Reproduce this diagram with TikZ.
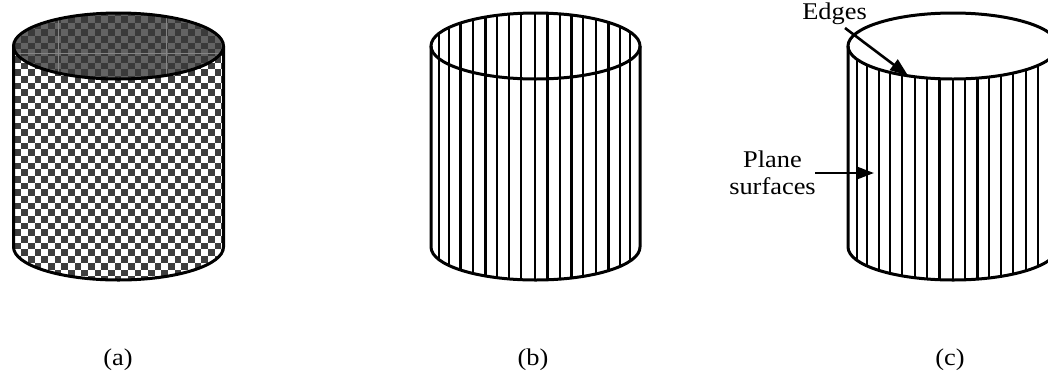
\documentclass[tikz,border=0pt]{standalone}
\usepackage{fontspec}
\setmainfont{Liberation Serif}
\usetikzlibrary{arrows.meta}
\definecolor{chkdark}{HTML}{3E3E3E}
\definecolor{topdark}{HTML}{3A3A3A}
\definecolor{toplight}{HTML}{636363}
\definecolor{seam}{HTML}{858585}
\tikzset{
  rim/.style={line width=3pt,black},
  label/.style={font=\fontsize{24}{28}\selectfont,xscale=1.1,transform shape,inner sep=0pt,align=center},
  pointer/.style={line width=2.6pt,black,-{Triangle[length=18pt,width=13pt]},shorten >=0pt},
}
\newcommand{\checkcells}[1]{%
  \foreach \i in {0,...,31}{\foreach \j in {0,...,42}{%
    \pgfmathtruncatemacro\k{mod(\i+\j,2)}%
    \ifnum\k=0 \fill[#1] ({14.5+\i*6.67},{2.7+\j*6.67}) rectangle ++(6.67,6.67);\fi}}}
\newcommand{\hatchlines}[1]{%
  \foreach \x/\w in {#1}{\draw[line width=\w pt] (\x,0) -- (\x,300);}}
\begin{document}
\begin{tikzpicture}[x=1pt,y=-1pt]
\useasboundingbox (0,0) rectangle (1048,376);
\fill[white] (0,0) rectangle (1048,376);
% (a)
\begin{scope}
  \clip (13.5,46) -- (13.5,247) arc[start angle=180,end angle=0,x radius=105,y radius=33] -- (223.5,46) -- cycle;
  \checkcells{chkdark}
\end{scope}
\begin{scope}
  \clip (118.5,46) ellipse [x radius=105,y radius=33];
  \fill[toplight] (0,0) rectangle (240,90);
  \checkcells{topdark}
  \draw[seam,line width=0.8pt] (0,53)--(240,53) (58,0)--(58,90) (166,0)--(166,90);
\end{scope}
\draw[rim] (13.5,46) -- (13.5,247) arc[start angle=180,end angle=0,x radius=105,y radius=33] -- (223.5,46);
\draw[rim] (118.5,46) ellipse [x radius=105,y radius=33];
% (b)
\begin{scope}
  \clip (431,46) arc[start angle=180,end angle=0,x radius=104.5,y radius=-33] -- (640,247) arc[start angle=0,end angle=180,x radius=104.5,y radius=33] -- cycle;
  \hatchlines{439.3/2.2,449.3/2.2,460.7/2.5,472.7/2.2,485.3/3,497.3/2.1,509.3/2.2,521.3/2.2,535/2,547.3/3,560/2.2,571.3/2.6,583.3/2.1,596/2.1,608.3/2.8,620/2,630/1.8}
\end{scope}
\draw[rim] (431,46) -- (431,247) arc[start angle=180,end angle=0,x radius=104.5,y radius=33] -- (640,46);
\draw[rim] (535.5,46) ellipse [x radius=104.5,y radius=33];
% (c)
\begin{scope}
  \clip (0,0) rectangle (1048,376);
  \begin{scope}
    \clip (848,46) arc[start angle=180,end angle=0,x radius=105,y radius=33] -- (1058,247) arc[start angle=0,end angle=180,x radius=105,y radius=33] -- cycle;
    \hatchlines{856.7/2,867.3/1.9,878.7/1.9,890/2.6,902.3/2.1,914.7/1.9,927.3/2,939.3/2.8,952.7/2,965/2.1,977.3/2.8,989.3/2,1001/2.7,1013.3/2,1026/2.1,1038.3/2}
  \end{scope}
  \draw[rim] (848,46) -- (848,247) arc[start angle=180,end angle=0,x radius=105,y radius=33] -- (1058,46);
  \draw[rim] (953,46) ellipse [x radius=105,y radius=33];
\end{scope}
% labels
\node[label] (edges) at (834.5,13.5) {Edges};
\node[label] (plane) at (772.5,159) {Plane};
\node[label] (surfaces) at (772.5,186) {surfaces};
\node[label] (capa) at (118,359.5) {(a)};
\node[label] (capb) at (533,359.5) {(b)};
\node[label] (capc) at (950,359.5) {(c)};
\coordinate (edgestart) at (845,28);
\coordinate (edgetip) at (908,75.5);
\coordinate (planestart) at (815,173);
\coordinate (planetip) at (874,173);
\draw[pointer] (edgestart) -- (edgetip);
\draw[pointer] (planestart) -- (planetip);
\end{tikzpicture}
\end{document}
